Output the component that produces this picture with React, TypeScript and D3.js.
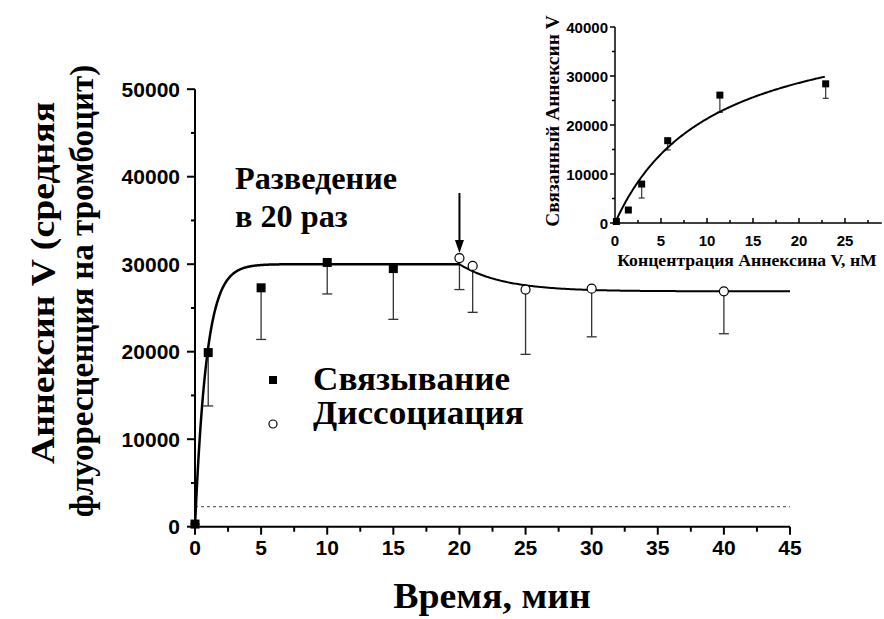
import React from "react";
import * as d3 from "d3";

// Kinetics of annexin V binding (filled) and dissociation after 20x dilution (open)
const bindTime = [0, 1, 5, 10, 15];
const bindValue = [300, 19900, 27300, 30200, 29500];
const bindLower = [300, 13800, 21400, 26600, 23700];

const dissTime = [20, 21, 25, 30, 40];
const dissValue = [30700, 29800, 27100, 27200, 26900];
const dissLower = [27100, 24500, 19700, 21700, 22050];

// Fitted model parameters
const bindPlateau = 30000;
const bindRate = 1.15;
const dissStart = 20;
const dissPlateau = 26900;
const dissRate = 0.3;
const baselineLevel = 2300;

const xTicks = [0, 5, 10, 15, 20, 25, 30, 35, 40, 45];
const yTicks = [0, 10000, 20000, 30000, 40000, 50000];

// Inset: saturation binding
const insetConc = [0.15, 1.45, 2.9, 5.73, 11.4, 22.9];
const insetBound = [300, 2650, 7950, 16800, 26100, 28400];
const insetLower = [300, 2650, 5100, 14900, 22600, 25450];
const insetBmax = 43600;
const insetKd = 10.5;
const insetXTicks = [0, 5, 10, 15, 20, 25];
const insetYTicks = [0, 10000, 20000, 30000, 40000];

const SERIF = "'Liberation Serif', 'Times New Roman', serif";
const SANS = "'Liberation Sans', Arial, sans-serif";

type TProps = {
  x: number;
  y: number;
  size: number;
  sx?: number;
  rotate?: number;
  anchor?: "start" | "middle" | "end";
  family?: string;
  children: React.ReactNode;
};

// Bold text placed with a transform so it can be widened along its direction
function T({ x, y, size, sx = 1, rotate = 0, anchor = "start", family = SERIF, children }: TProps) {
  return (
    <text
      transform={`translate(${x},${y}) rotate(${rotate}) scale(${sx},1)`}
      textAnchor={anchor}
      fontFamily={family}
      fontWeight="bold"
      fontSize={size}
      fill="#000"
    >
      {children}
    </text>
  );
}

export default function App() {
  const x = d3.scaleLinear().domain([0, 45]).range([195, 790]);
  const y = d3.scaleLinear().domain([0, 50000]).range([526.7, 89.2]);

  const xi = d3.scaleLinear().domain([0, 29]).range([615, 615 + 29 * 9.2]);
  const yi = d3.scaleLinear().domain([0, 40000]).range([223, 27]);

  const bindFit = d3.range(0, 20.001, 0.05).map((t) => [t, bindPlateau * (1 - Math.exp(-bindRate * t))]);
  const dissFit = d3.range(20, 45.001, 0.1).map((t) => [
    t,
    dissPlateau + (bindPlateau - dissPlateau) * Math.exp(-dissRate * (t - dissStart)),
  ]);
  const fitLine = d3
    .line<number[]>()
    .x((d) => x(d[0]))
    .y((d) => y(d[1]));

  const insetFit = d3.range(0, 22.801, 0.1).map((c) => [c, (insetBmax * c) / (insetKd + c)]);
  const insetLine = d3
    .line<number[]>()
    .x((d) => xi(d[0]))
    .y((d) => yi(d[1]));

  const xMinor = d3.range(2.5, 45, 5);
  const yMinor = d3.range(5000, 50000, 10000);
  const xiMinor = d3.range(2.5, 29, 5);
  const yiMinor = d3.range(5000, 40000, 10000);

  const sq = 9;
  const isq = 7;

  return (
    <svg width={884} height={619} style={{ position: "absolute", left: 0, top: 0, background: "#fff" }}>
      {/* baseline (dotted) */}
      <line x1={x(0)} x2={x(45)} y1={y(baselineLevel)} y2={y(baselineLevel)} stroke="#666" strokeWidth={1.3} strokeDasharray="3,3" />

      {/* main axes */}
      <g stroke="#000" strokeWidth={2}>
        <line x1={x(0)} x2={x(45)} y1={y(0)} y2={y(0)} />
        <line x1={x(0)} x2={x(0)} y1={y(0)} y2={y(50000)} />
        {xTicks.map((t) => (
          <line key={"xt" + t} x1={x(t)} x2={x(t)} y1={y(0)} y2={y(0) + 8} />
        ))}
        {xMinor.map((t) => (
          <line key={"xm" + t} x1={x(t)} x2={x(t)} y1={y(0)} y2={y(0) + 5} />
        ))}
        {yTicks.map((t) => (
          <line key={"yt" + t} x1={x(0) - 8} x2={x(0)} y1={y(t)} y2={y(t)} />
        ))}
        {yMinor.map((t) => (
          <line key={"ym" + t} x1={x(0) - 4} x2={x(0)} y1={y(t)} y2={y(t)} />
        ))}
      </g>
      <g fontFamily={SANS} fontWeight="bold" fontSize={21} fill="#000">
        {xTicks.map((t) => (
          <text key={"xl" + t} x={x(t)} y={y(0) + 28} textAnchor="middle">
            {t}
          </text>
        ))}
        {yTicks.map((t) => (
          <text key={"yl" + t} x={x(0) - 15} y={y(t) + 7.5} textAnchor="end">
            {t}
          </text>
        ))}
      </g>

      {/* error bars (lower only) */}
      <g stroke="#333" strokeWidth={1.3}>
        {bindTime.map((t, i) => (
          <g key={"be" + i}>
            <line x1={x(t)} x2={x(t)} y1={y(bindValue[i])} y2={y(bindLower[i])} />
            <line x1={x(t) - 5} x2={x(t) + 5} y1={y(bindLower[i])} y2={y(bindLower[i])} />
          </g>
        ))}
        {dissTime.map((t, i) => (
          <g key={"de" + i}>
            <line x1={x(t)} x2={x(t)} y1={y(dissValue[i])} y2={y(dissLower[i])} />
            <line x1={x(t) - 5} x2={x(t) + 5} y1={y(dissLower[i])} y2={y(dissLower[i])} />
          </g>
        ))}
      </g>

      {/* fitted curves */}
      <path d={fitLine(bindFit) || ""} fill="none" stroke="#000" strokeWidth={2.5} />
      <path d={fitLine(dissFit) || ""} fill="none" stroke="#000" strokeWidth={2} />

      {/* markers */}
      {bindTime.map((t, i) => (
        <rect key={"bm" + i} x={x(t) - sq / 2} y={y(bindValue[i]) - sq / 2} width={sq} height={sq} fill="#000" />
      ))}
      {dissTime.map((t, i) => (
        <circle key={"dm" + i} cx={x(t)} cy={y(dissValue[i])} r={4.5} fill="#fff" stroke="#000" strokeWidth={1.2} />
      ))}

      {/* dilution arrow */}
      <line x1={x(dissStart)} x2={x(dissStart)} y1={193} y2={242} stroke="#000" strokeWidth={2} />
      <path d={`M${x(dissStart) - 4.5},240 L${x(dissStart) + 4.5},240 L${x(dissStart)},253 Z`} fill="#000" />
      <T x={235} y={189} size={31} sx={1.04}>Разведение</T>
      <T x={235} y={227} size={31} sx={1.04}>в 20 раз</T>

      {/* legend */}
      <rect x={273 - 4} y={380 - 4} width={8} height={8} fill="#000" />
      <circle cx={273} cy={424} r={4} fill="#fff" stroke="#000" strokeWidth={1.2} />
      <T x={313} y={390} size={33.5} sx={1.05}>Связывание</T>
      <T x={313} y={424} size={33.5} sx={1.05}>Диссоциация</T>

      {/* axis titles */}
      <T x={492} y={608} size={36} sx={1.05} anchor="middle">Время, мин</T>
      <T x={54} y={283} size={34} sx={1.11} rotate={-90} anchor="middle">Аннексин V (средняя</T>
      <T x={93} y={291} size={33} rotate={-90} anchor="middle">флуоресценция на тромбоцит)</T>

      {/* inset */}
      <g stroke="#000" strokeWidth={1.5}>
        <line x1={xi(0)} x2={xi(29)} y1={yi(0)} y2={yi(0)} />
        <line x1={xi(0)} x2={xi(0)} y1={yi(0)} y2={yi(40000)} />
        {insetXTicks.map((t) => (
          <line key={"ixt" + t} x1={xi(t)} x2={xi(t)} y1={yi(0)} y2={yi(0) - 5} />
        ))}
        {xiMinor.map((t) => (
          <line key={"ixm" + t} x1={xi(t)} x2={xi(t)} y1={yi(0)} y2={yi(0) - 3} />
        ))}
        {insetYTicks.map((t) => (
          <line key={"iyt" + t} x1={xi(0) - 5} x2={xi(0)} y1={yi(t)} y2={yi(t)} />
        ))}
        {yiMinor.map((t) => (
          <line key={"iym" + t} x1={xi(0) - 3} x2={xi(0)} y1={yi(t)} y2={yi(t)} />
        ))}
      </g>
      <g fontFamily={SANS} fontWeight="bold" fontSize={15} fill="#000">
        {insetXTicks.map((t) => (
          <text key={"ixl" + t} x={xi(t)} y={yi(0) + 23} textAnchor="middle">
            {t}
          </text>
        ))}
        {insetYTicks.map((t) => (
          <text key={"iyl" + t} x={xi(0) - 7} y={yi(t) + 5.5} textAnchor="end">
            {t}
          </text>
        ))}
      </g>
      <g stroke="#333" strokeWidth={1.2}>
        {insetConc.map((c, i) =>
          insetLower[i] < insetBound[i] ? (
            <g key={"ie" + i}>
              <line x1={xi(c)} x2={xi(c)} y1={yi(insetBound[i])} y2={yi(insetLower[i])} />
              <line x1={xi(c) - 3} x2={xi(c) + 3} y1={yi(insetLower[i])} y2={yi(insetLower[i])} />
            </g>
          ) : null
        )}
      </g>
      <path d={insetLine(insetFit) || ""} fill="none" stroke="#000" strokeWidth={2} />
      {insetConc.map((c, i) => (
        <rect key={"im" + i} x={xi(c) - isq / 2} y={yi(insetBound[i]) - isq / 2} width={isq} height={isq} fill="#000" />
      ))}
      <T x={747} y={266} size={17.7} anchor="middle">Концентрация Аннексина V, нМ</T>
      <T x={559} y={121} size={18.5} sx={1.05} rotate={-90} anchor="middle">Связанный Аннексин V</T>
    </svg>
  );
}
